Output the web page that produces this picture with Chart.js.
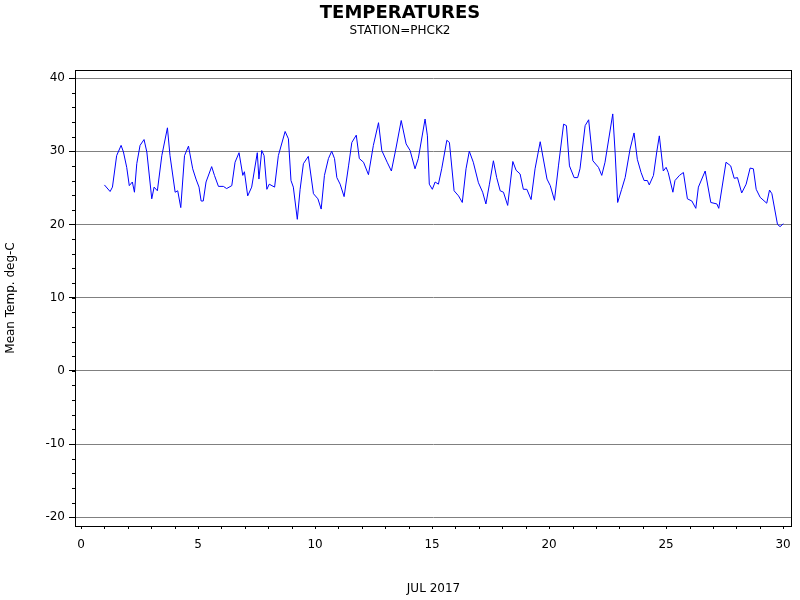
<!DOCTYPE html>
<html>
<head>
<script src="https://cdn.jsdelivr.net/npm/chart.js@4"></script>
<style>body{margin:0;background:#fff}#wrap{width:800px;height:600px}</style>
</head>
<body>
<div id="wrap"><canvas id="c"></canvas></div>
<script>
// day of month (fractional) and mean temperature
const days = [0.996,1.24,1.34,1.52,1.71,1.81,1.95,2.06,2.19,2.28,2.38,2.52,2.69,2.81,3.02,3.12,3.26,3.45,3.69,3.80,4.02,4.13,4.26,4.42,4.59,4.77,4.91,5.04,5.13,5.22,5.34,5.58,5.70,5.87,6.08,6.22,6.44,6.58,6.75,6.91,6.98,7.12,7.29,7.53,7.60,7.72,7.82,7.94,8.04,8.27,8.43,8.72,8.86,8.97,9.07,9.24,9.36,9.50,9.71,9.93,10.12,10.26,10.40,10.57,10.71,10.83,10.93,11.07,11.24,11.43,11.57,11.76,11.89,12.07,12.28,12.49,12.71,12.85,13.08,13.26,13.45,13.68,13.89,14.06,14.27,14.41,14.70,14.80,14.88,15.01,15.13,15.27,15.41,15.63,15.74,15.94,16.13,16.29,16.45,16.59,16.76,16.98,17.16,17.30,17.45,17.62,17.76,17.91,18.05,18.23,18.45,18.59,18.76,18.90,19.05,19.23,19.40,19.62,19.91,20.05,20.23,20.40,20.62,20.74,20.87,21.07,21.22,21.32,21.54,21.69,21.87,22.11,22.25,22.39,22.72,22.82,22.93,23.10,23.25,23.46,23.63,23.77,23.93,24.06,24.20,24.28,24.46,24.60,24.71,24.88,25.00,25.09,25.29,25.38,25.57,25.74,25.91,26.10,26.27,26.38,26.67,26.91,27.17,27.25,27.56,27.76,27.91,28.05,28.23,28.42,28.59,28.73,28.85,29.02,29.30,29.42,29.52,29.76,29.87,30.01];
const temps = [25.4,24.5,25.1,29.4,30.8,29.9,27.8,25.3,25.8,24.4,28.3,30.8,31.6,29.9,23.5,25.1,24.6,29.4,33.2,29.4,24.4,24.6,22.3,29.4,30.7,27.6,26.2,25.1,23.2,23.2,25.8,27.9,26.7,25.2,25.2,24.9,25.3,28.5,29.8,26.7,27.2,23.9,25.1,29.8,26.2,30.1,29.4,24.8,25.5,25.1,29.4,32.7,31.7,26.0,25.1,20.7,24.8,28.3,29.3,24.2,23.5,22.1,26.7,29.0,30.0,29.0,26.4,25.5,23.8,28.0,31.2,32.2,29.0,28.5,26.8,30.8,33.9,30.1,28.5,27.3,30.3,34.2,31.0,30.1,27.6,29.0,34.4,32.1,25.5,24.8,25.8,25.5,27.6,31.5,31.2,24.6,23.9,23.0,27.6,30.0,28.5,25.7,24.4,22.8,25.5,28.7,26.4,24.6,24.4,22.6,28.6,27.4,26.9,24.8,24.8,23.4,27.6,31.3,26.2,25.3,23.3,28.0,33.7,33.5,28.0,26.4,26.4,27.6,33.5,34.3,28.7,27.8,26.7,28.5,35.1,29.9,23.0,24.8,26.4,30.3,32.5,28.9,27.1,26.0,26.0,25.4,26.7,29.9,32.1,27.3,27.8,27.1,24.4,26.0,26.7,27.1,23.5,23.2,22.2,25.1,27.3,23.0,22.8,22.2,28.5,28.0,26.3,26.4,24.3,25.5,27.7,27.6,24.8,23.7,22.9,24.7,24.2,20.0,19.7,20.1];
const yTicks = [-20,-10,0,10,20,30,40];
const xTicks = [0,5,10,15,20,25,30];

const FONT = "'DejaVu Sans', sans-serif";

const frame = {
  id: 'frame',
  afterDraw(chart) {
    const ctx = chart.ctx, a = chart.chartArea;
    const xs = chart.scales.x, ys = chart.scales.y;
    ctx.save();
    ctx.strokeStyle = '#000';
    ctx.lineWidth = 1;
    ctx.strokeRect(a.left + 0.5, a.top + 0.5, a.right - a.left - 1, a.bottom - a.top);
    ctx.beginPath();
    // minor ticks
    for (let d = 0; d <= 30; d++) {
      const px = Math.round(xs.getPixelForValue(d)) + 0.5;
      ctx.moveTo(px, a.bottom); ctx.lineTo(px, a.bottom + 3);
    }
    for (let v = -20; v <= 40; v += 2) {
      const py = Math.round(ys.getPixelForValue(v)) + 0.5;
      ctx.moveTo(a.left, py); ctx.lineTo(a.left - 3, py);
    }
    ctx.stroke();
    ctx.fillStyle = '#000';
    ctx.textAlign = 'center';
    ctx.font = 'bold 18px ' + FONT;
    ctx.fillText('TEMPERATURES', 400, 18);
    ctx.font = '12px ' + FONT;
    ctx.fillText('STATION=PHCK2', 400, 34);
    ctx.restore();
  }
};

new Chart(document.getElementById('c'), {
  type: 'line',
  data: {
    datasets: [{
      data: days.map((d, i) => ({ x: d, y: temps[i] })),
      borderColor: '#0000ff',
      borderWidth: 1,
      pointRadius: 0,
      tension: 0
    }]
  },
  options: {
    responsive: true,
    maintainAspectRatio: false,
    animation: false,
    layout: { padding: { top: 70, right: 8, left: 0, bottom: 0 } },
    plugins: { legend: { display: false }, tooltip: { enabled: false } },
    scales: {
      x: {
        type: 'linear', min: -0.26, max: 30.38,
        afterBuildTicks: s => { s.ticks = xTicks.map(v => ({ value: v })); },
        afterFit: s => { s.height = 74; },
        grid: { display: false, drawOnChartArea: false },
        border: { display: false },
        ticks: { color: '#000', font: { family: FONT, size: 12 }, padding: 4 },
        title: { display: true, text: 'JUL 2017', color: '#000', font: { family: FONT, size: 12 }, padding: { top: 14 } }
      },
      y: {
        min: -21.2, max: 41.1,
        afterBuildTicks: s => { s.ticks = yTicks.map(v => ({ value: v })); },
        afterFit: s => { s.width = 75; },
        grid: { color: '#808080', borderDash: [4, 3], tickBorderDash: [], tickColor: '#000', tickLength: 6 },
        border: { display: false },
        ticks: { color: '#000', font: { family: FONT, size: 12 }, padding: 4 },
        title: { display: true, text: 'Mean Temp. deg-C', color: '#000', font: { family: FONT, size: 12 }, padding: { bottom: 8 } }
      }
    }
  },
  plugins: [frame]
});
</script>
</body>
</html>
